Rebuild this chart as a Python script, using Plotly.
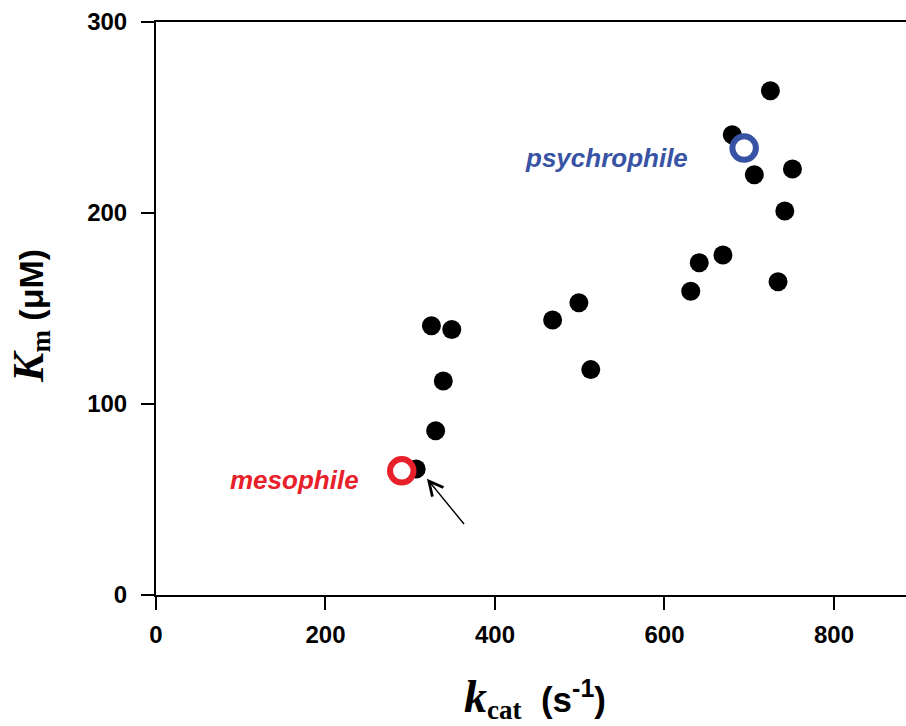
import plotly.graph_objects as go

# Data
kcat = [307, 330, 339, 325, 349, 468, 499, 513, 631, 641, 669, 734, 742, 751, 706, 680, 725]
km = [66, 86, 112, 141, 139, 144, 153, 118, 159, 174, 178, 164, 201, 223, 220, 241, 264]

meso_kcat = [290]
meso_km = [65]
psy_kcat = [694]
psy_km = [234]

x_ticks = [0, 200, 400, 600, 800]
y_ticks = [0, 100, 200, 300]

RED = "#e8202a"
BLUE = "#3953a4"
SANS = "Arial, Liberation Sans, sans-serif"

fig = go.Figure()
fig.add_trace(go.Scatter(x=kcat, y=km, mode="markers",
                         marker=dict(size=19, color="black", line=dict(width=0)),
                         showlegend=False))
fig.add_trace(go.Scatter(x=meso_kcat, y=meso_km, mode="markers",
                         marker=dict(size=23.5, color="white", line=dict(width=6, color=RED)),
                         showlegend=False))
fig.add_trace(go.Scatter(x=psy_kcat, y=psy_km, mode="markers",
                         marker=dict(size=23.5, color="white", line=dict(width=6, color=BLUE)),
                         showlegend=False))

axis_common = dict(showgrid=False, zeroline=False, showline=True, linecolor="black",
                   linewidth=2, ticks="outside", ticklen=13, tickwidth=2, tickcolor="black",
                   tickfont=dict(family=SANS, size=24, color="black", weight="bold"))

fig.update_xaxes(range=[0, 885], tickvals=x_ticks, ticktext=[str(v) for v in x_ticks],
                 mirror=True, ticklabelstandoff=4, **axis_common)
fig.update_yaxes(range=[0, 300], tickvals=y_ticks, ticktext=[str(v) for v in y_ticks],
                 ticklabelstandoff=9, **axis_common)

# labels
fig.add_annotation(x=164, y=60, xref="x", yref="y", text="<b><i>mesophile</i></b>",
                   showarrow=False, font=dict(family=SANS, size=26, color=RED),
                   xanchor="center", yanchor="middle")
fig.add_annotation(x=532, y=229, xref="x", yref="y", text="<b><i>psychrophile</i></b>",
                   showarrow=False, font=dict(family=SANS, size=26, color=BLUE),
                   xanchor="center", yanchor="middle")
# arrow
fig.add_annotation(x=319.7, y=60.9, ax=364.9, ay=36.4, xref="x", yref="y",
                   axref="x", ayref="y", text="", showarrow=True,
                   arrowhead=5, arrowsize=2, arrowwidth=1.4, arrowcolor="black", standoff=0)

SERIF = "Liberation Serif"
ytitle = (f'<span style="font-family:{SERIF};font-style:italic;font-weight:bold;font-size:44px">K</span>'
          f'<sub><span style="font-family:{SERIF};font-weight:bold;font-size:27px">m</span></sub>'
          f'<span style="font-weight:bold;font-size:34px">&nbsp;(μM)</span>')
xtitle = (f'<span style="font-family:{SERIF};font-style:italic;font-weight:bold;font-size:46px">k</span>'
          f'<sub><span style="font-family:{SERIF};font-weight:bold;font-size:27px">cat</span></sub>'
          f'<span style="font-weight:bold;font-size:35px">&nbsp;&nbsp;(s</span>'
          f'<sup><span style="font-weight:bold;font-size:25px">-1</span></sup>'
          f'<span style="font-weight:bold;font-size:35px">)</span>')

fig.add_annotation(x=-0.168, y=0.487, xref="paper", yref="paper", text=ytitle,
                   textangle=-90, showarrow=False, xanchor="center", yanchor="middle",
                   font=dict(family=SANS, color="black", size=34))
fig.add_annotation(x=0.505, y=-0.18, xref="paper", yref="paper", text=xtitle,
                   showarrow=False, xanchor="center", yanchor="middle",
                   font=dict(family=SANS, color="black", size=35))

fig.update_layout(width=906, height=726, plot_bgcolor="white", paper_bgcolor="white",
                  margin=dict(l=156, r=0, t=22, b=131), showlegend=False)

# remove the default 8px page margin so the figure fills the window exactly
fig.write_html("out.html", config={"displayModeBar": False},
               post_script="document.body.style.margin='0';document.body.style.overflow='hidden';")
